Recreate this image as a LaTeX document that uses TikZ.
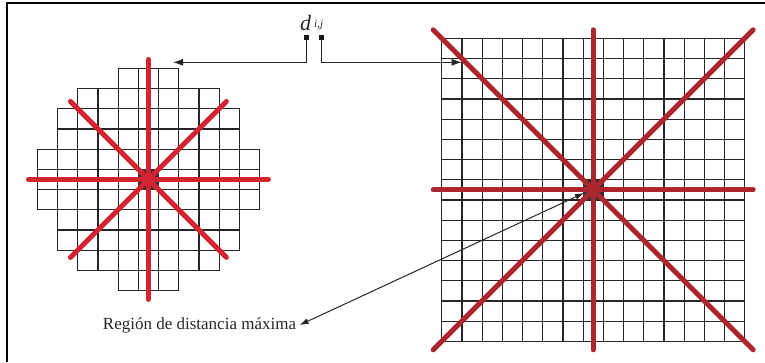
\documentclass[tikz,border=0pt]{standalone}
\usepackage{fontspec}
\setmainfont{Liberation Serif}
\usetikzlibrary{arrows.meta}
\definecolor{redL}{RGB}{210,35,48}
\definecolor{redR}{RGB}{172,38,48}

\begin{document}
\begin{tikzpicture}[x=1pt,y=-1pt,
  cell/.style={draw=black!85,line width=1.2pt},
  ray/.style={line width=5pt,line cap=round},
  conn/.style={line width=1pt,draw=black!85},
  tip/.style={-{Latex[length=10pt,width=7pt]}},
  sq/.style={fill=black!90,minimum size=5pt,inner sep=0pt}]
  \useasboundingbox (0,0) rectangle (765,362);
  % frame
  \draw[line width=2.5pt] (7,362) -- (7,3) -- (765,3);
  % left window, rounded by rows
  \foreach \r/\a/\b in {0/4/6,1/2/8,2/1/9,3/1/9,4/0/10,5/0/10,6/0/10,7/1/9,8/1/9,9/2/8,10/4/6}
    \foreach \c in {\a,...,\b}
      \draw[cell] ({37.3+\c*20.2},{68.3+\r*20.2}) rectangle ++(20.2,20.2);
  \fill[black!80] (138.3,169.3) rectangle ++(20.2,20.2);
  % right window, full square
  \foreach \i in {0,...,15} {
    \draw[cell] ({441.7+\i*20.2},38.3) -- ++(0,303);
    \draw[cell] (441.7,{38.3+\i*20.2}) -- ++(303,0);
  }
  \fill[black!80] (583.1,179.7) rectangle ++(20.2,20.2);
  % directions
  \foreach \dx/\dy in {0/120,120/0,78/78,78/-78}
    \draw[ray,redL] ({148.4-\dx},{179.4-\dy}) -- ({148.4+\dx},{179.4+\dy});
  \foreach \dx/\dy in {0/160,160/0,160/160,160/-160}
    \draw[ray,redR] ({593.2-\dx},{189.8-\dy}) -- ({593.2+\dx},{189.8+\dy});
  % labels and pointers
  \node[anchor=base west,inner sep=0pt,text=black!85] (dij) at (300,30)
    {\fontsize{22}{24}\selectfont\itshape d\hspace{3pt}\raisebox{3pt}{\fontsize{11}{12}\selectfont i,j}};
  \node[sq] (sqL) at (306.5,37) {};
  \node[sq] (sqR) at (321,37) {};
  \coordinate (arrL) at (173,62.3);
  \coordinate (arrR) at (461.7,62.3);
  \draw[conn,tip] (sqL) |- (arrL);
  \draw[conn,tip] (sqR) |- (arrR);
  \node[font=\fontsize{17}{20}\selectfont,text=black!85] (region) at (199.5,325) {Región de distancia máxima};
  \coordinate (ctr) at (584,193);
  \draw[conn,{Latex[length=9pt,width=6pt]}-{Latex[length=9pt,width=6pt]}] (region.east) -- (ctr);
\end{tikzpicture}
\end{document}
